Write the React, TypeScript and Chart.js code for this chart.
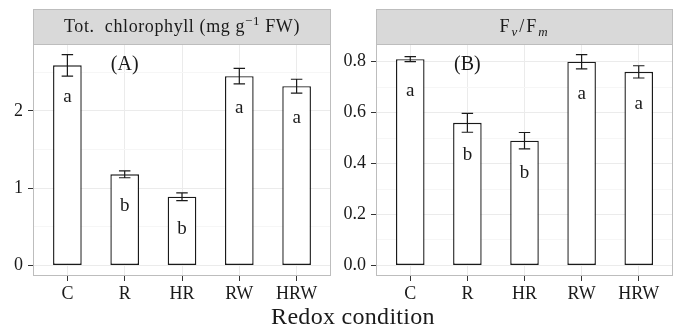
import React, { useEffect, useRef } from "react";
import { Chart, registerables } from "chart.js";
Chart.register(...registerables);

// ---------- data ----------
const categories = ["C", "R", "HR", "RW", "HRW"];
const chlValues = [2.59, 1.18, 0.89, 2.45, 2.32];
const chlErrors = [0.14, 0.045, 0.05, 0.1, 0.09];
const chlLetters = ["a", "b", "b", "a", "a"];
const fvfmValues = [0.81, 0.56, 0.49, 0.8, 0.76];
const fvfmErrors = [0.01, 0.037, 0.032, 0.028, 0.024];
const fvfmLetters = ["a", "b", "b", "a", "a"];
const chlTicks = [0, 1, 2];
const chlTickLabels = ["0", "1", "2"];
const chlMinorTicks = [0.5, 1.5, 2.5];
const fvfmTicks = [0, 0.2, 0.4, 0.6, 0.8];
const fvfmTickLabels = ["0.0", "0.2", "0.4", "0.6", "0.8"];
const fvfmMinorTicks = [0.1, 0.3, 0.5, 0.7];
const panelLabels = ["(A)", "(B)"];
const xTitle = "Redox condition";

type Seg = { t: string; k?: "sup" | "sub"; i?: boolean };
const chlTitle: Seg[] = [
  { t: "Tot.  chlorophyll (mg g" },
  { t: "−1", k: "sup" },
  { t: " FW)" },
];
const fvfmTitle: Seg[] = [
  { t: "F" },
  { t: "v", k: "sub", i: true },
  { t: "/F" },
  { t: "m", k: "sub", i: true },
];

// ---------- styles ----------
const FONT = '"Liberation Serif", "DejaVu Serif", serif';
const TEXT = "#1a1a1a";
const BORDER = "#bdbdbd";
const STRIP_FILL = "#d9d9d9";
const GRID_MAJOR = "#ebebeb";
const GRID_MINOR = "#f6f6f6";

function drawSegs(ctx: any, segs: Seg[], cx: number, cy: number, size: number, spacing: number) {
  const fontOf = (s: Seg) => `${s.i ? "italic " : ""}${s.k ? Math.round(size * 0.72) : size}px ${FONT}`;
  ctx.letterSpacing = `${spacing}px`;
  const widths = segs.map((s) => {
    ctx.font = fontOf(s);
    return ctx.measureText(s.t).width;
  });
  const total = widths.reduce((a, b) => a + b, 0);
  let x = cx - total / 2;
  const base = cy + size * 0.33;
  ctx.textAlign = "left";
  ctx.textBaseline = "alphabetic";
  segs.forEach((s, i) => {
    ctx.font = fontOf(s);
    const y = base + (s.k === "sup" ? -size * 0.4 : s.k === "sub" ? size * 0.22 : 0);
    ctx.fillText(s.t, x, y);
    x += widths[i];
  });
  ctx.letterSpacing = "0px";
}

const panelPlugin = {
  id: "panelDeco",
  afterDatasetsDraw(chart: any, _args: any, opts: any) {
    const { ctx, chartArea, scales } = chart;
    const { left, right, top, bottom } = chartArea;
    const x = scales.x;
    const y = scales.y;
    ctx.save();
    // error bars
    ctx.strokeStyle = TEXT;
    ctx.lineWidth = 1.2;
    opts.values.forEach((v: number, i: number) => {
      const e = opts.errors[i];
      const cx = x.getPixelForValue(i + 1);
      const hw = x.getPixelForValue(i + 1.1) - cx;
      const yt = y.getPixelForValue(v + e);
      const yb = y.getPixelForValue(v - e);
      ctx.beginPath();
      ctx.moveTo(cx, yt);
      ctx.lineTo(cx, yb);
      ctx.moveTo(cx - hw, yt);
      ctx.lineTo(cx + hw, yt);
      ctx.moveTo(cx - hw, yb);
      ctx.lineTo(cx + hw, yb);
      ctx.stroke();
    });
    // letters
    ctx.fillStyle = TEXT;
    ctx.font = `19px ${FONT}`;
    ctx.textAlign = "center";
    ctx.textBaseline = "alphabetic";
    opts.values.forEach((v: number, i: number) => {
      const cx = x.getPixelForValue(i + 1);
      ctx.fillText(opts.letters[i], cx, y.getPixelForValue(v) + 37);
    });
    // panel label
    ctx.font = `20px ${FONT}`;
    ctx.fillText(opts.label, x.getPixelForValue(2), top + 25.5);
    // panel border
    ctx.strokeStyle = BORDER;
    ctx.lineWidth = 1;
    ctx.strokeRect(left + 0.5, top + 0.5, right - left - 1, bottom - top - 1);
    // strip
    const sh = 35;
    ctx.fillStyle = STRIP_FILL;
    ctx.fillRect(left, top - sh, right - left, sh);
    ctx.strokeRect(left + 0.5, top - sh + 0.5, right - left - 1, sh);
    ctx.fillStyle = TEXT;
    drawSegs(ctx, opts.title, (left + right) / 2, top - sh / 2, 18, opts.titleSpacing);
    ctx.restore();
  },
};

function makeConfig(
  values: number[],
  errors: number[],
  letters: string[],
  ticks: number[],
  tickLabels: string[],
  minor: number[],
  title: Seg[],
  titleSpacing: number,
  label: string,
  yAxisWidth: number,
  padRight: number
): any {
  const maxTop = Math.max(...values.map((v, i) => v + errors[i]));
  const exp = maxTop * 0.05;
  const isMajor = (v: number) => ticks.some((t) => Math.abs(t - v) < 1e-9);
  const allTicks = [...ticks, ...minor].sort((a, b) => a - b);
  return {
    type: "bar",
    data: {
      datasets: [
        {
          data: values.map((v, i) => ({ x: i + 1, y: v })),
          backgroundColor: "#ffffff",
          borderColor: TEXT,
          borderWidth: 1.4,
          borderSkipped: false,
          barPercentage: 0.5,
          categoryPercentage: 1,
        },
      ],
    },
    options: {
      responsive: false,
      animation: false,
      events: [],
      layout: { padding: { left: 0, right: padRight, top: 44, bottom: 23 } },
      plugins: {
        legend: { display: false },
        tooltip: { enabled: false },
        panelDeco: { values, errors, letters, title, titleSpacing, label },
      },
      scales: {
        x: {
          type: "linear",
          offset: false,
          min: 0.4,
          max: 5.6,
          afterBuildTicks: (s: any) => {
            s.ticks = categories.map((_, i) => ({ value: i + 1 }));
          },
          afterFit: (s: any) => {
            s.height = 30;
          },
          ticks: {
            callback: (v: number) => categories[Math.round(v) - 1],
            font: { family: FONT, size: 18 },
            color: TEXT,
            padding: 2,
            autoSkip: false,
            maxRotation: 0,
          },
          grid: { color: GRID_MAJOR, tickColor: "#333333", tickLength: 5, offset: false },
          border: { display: false },
        },
        y: {
          type: "linear",
          min: -exp,
          max: maxTop + exp,
          afterBuildTicks: (s: any) => {
            s.ticks = allTicks.map((v) => ({ value: v }));
          },
          afterFit: (s: any) => {
            s.width = yAxisWidth;
          },
          ticks: {
            callback: (v: number) => {
              const idx = ticks.findIndex((t) => Math.abs(t - v) < 1e-9);
              return idx >= 0 ? tickLabels[idx] : "";
            },
            font: { family: FONT, size: 18 },
            color: TEXT,
            padding: 5,
            autoSkip: false,
          },
          grid: {
            color: (c: any) => (isMajor(c.tick.value) ? GRID_MAJOR : GRID_MINOR),
            tickColor: (c: any) => (isMajor(c.tick.value) ? "#333333" : "rgba(0,0,0,0)"),
            tickLength: 5,
          },
          border: { display: false },
        },
      },
    },
    plugins: [panelPlugin],
  };
}

export default function App() {
  const leftRef = useRef<HTMLCanvasElement>(null);
  const rightRef = useRef<HTMLCanvasElement>(null);
  useEffect(() => {
    const c1 = new Chart(
      leftRef.current as HTMLCanvasElement,
      makeConfig(chlValues, chlErrors, chlLetters, chlTicks, chlTickLabels, chlMinorTicks, chlTitle, 0.6, panelLabels[0], 33, 9)
    );
    const c2 = new Chart(
      rightRef.current as HTMLCanvasElement,
      makeConfig(fvfmValues, fvfmErrors, fvfmLetters, fvfmTicks, fvfmTickLabels, fvfmMinorTicks, fvfmTitle, 2, panelLabels[1], 36, 7)
    );
    return () => {
      c1.destroy();
      c2.destroy();
    };
  }, []);
  return (
    <div style={{ position: "absolute", left: 0, top: 0, width: 680, height: 329, background: "#fff" }}>
      <canvas ref={leftRef} width={340} height={329} style={{ position: "absolute", left: 0, top: 0 }} />
      <canvas ref={rightRef} width={340} height={329} style={{ position: "absolute", left: 340, top: 0 }} />
      <div
        style={{
          position: "absolute",
          left: 33,
          width: 640,
          top: 303,
          lineHeight: "26px",
          textAlign: "center",
          fontFamily: FONT,
          fontSize: 24,
          letterSpacing: "0.3px",
          color: TEXT,
        }}
      >
        {xTitle}
      </div>
    </div>
  );
}
